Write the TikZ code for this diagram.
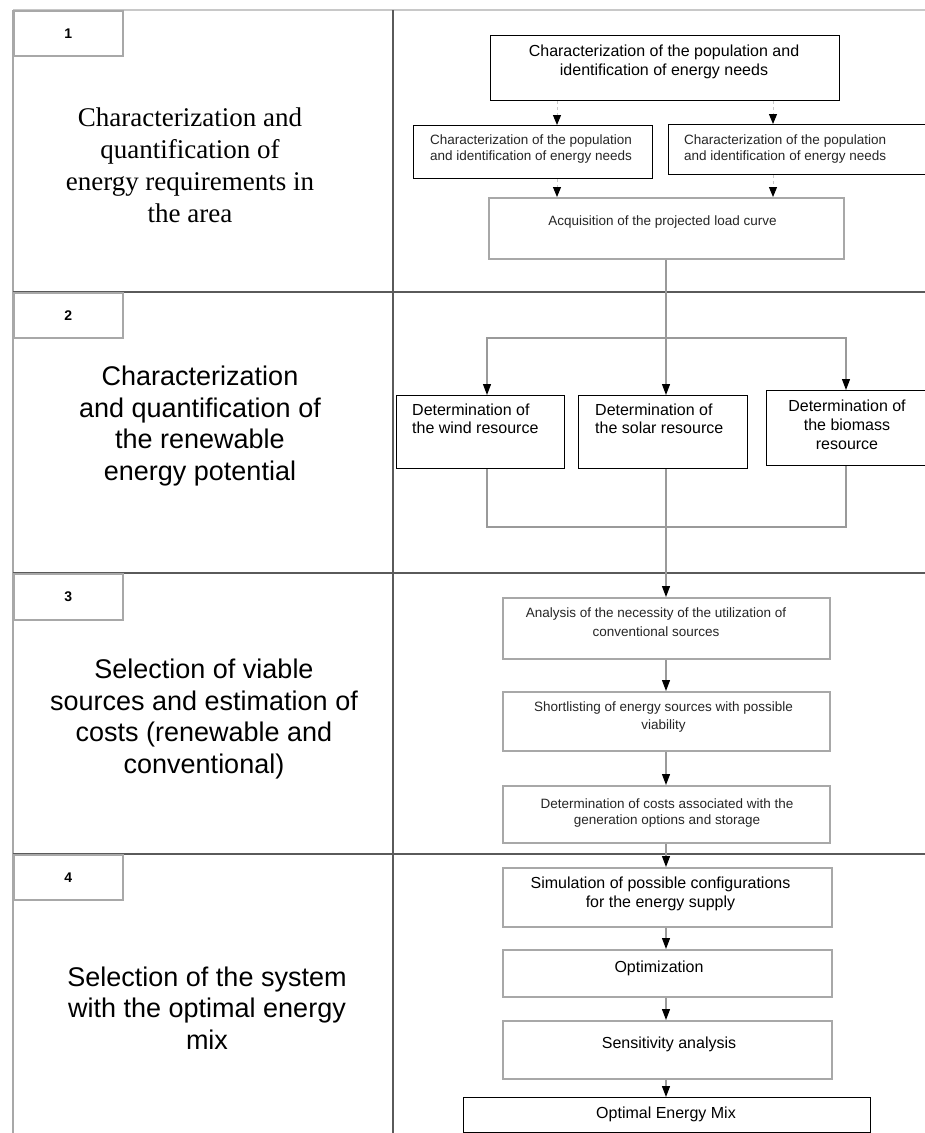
\documentclass[tikz,border=0pt]{standalone}
\usepackage{fontspec}
\setmainfont{Liberation Sans}
\newfontfamily\serifff{Liberation Serif}
\usetikzlibrary{arrows.meta,calc}
\definecolor{divc}{HTML}{5A5A5A}
\definecolor{lgray}{HTML}{A8A8A8}
\definecolor{cgray}{HTML}{9A9A9A}
\definecolor{tgray}{HTML}{C8C8C8}
\begin{document}
\begin{tikzpicture}[x=1pt,y=-1pt,
  bbox/.style={draw=black, line width=1.3pt, inner sep=0pt, anchor=north west},
  gbox/.style={draw=lgray, line width=1.8pt, inner sep=0pt, anchor=north west},
  numbox/.style={draw=lgray, line width=1.5pt, inner sep=0pt, anchor=north west, minimum width=109pt, minimum height=45pt, font=\fontsize{14}{16}\selectfont\bfseries},
  bigtxt/.style={align=center, inner sep=0pt, font=\fontsize{27}{31.5}\selectfont},
  sertxt/.style={align=center, inner sep=0pt, font=\serifff\fontsize{27}{32}\selectfont},
  t16/.style={inner sep=0pt, font=\fontsize{16}{19}\selectfont},
  t13/.style={inner sep=0pt, font=\fontsize{13.5}{16}\selectfont, text=black!85},
  divline/.style={draw=divc, line width=2pt},
  gline/.style={draw=cgray, line width=1.2pt},
  arr/.style={draw=cgray, line width=1.2pt, -{Triangle[width=8pt,length=11pt,color=black,fill=black]}},
  farr/.style={draw=tgray, line width=1pt, dashed, -{Triangle[width=8pt,length=10pt,color=black,fill=black]}}
]
\useasboundingbox (0,0) rectangle (925,1133);
\fill[white] (0,0) rectangle (925,1133);

% frame
\draw[draw=tgray, line width=1.5pt] (13,10) -- (925,10);
\draw[draw=lgray, line width=2pt] (13,10) -- (13,1133);
\draw[divline, line width=2.5pt] (393,10) -- (393,1133);
\draw[divline] (13,292) -- (925,292);
\draw[divline] (13,573) -- (925,573);
\draw[divline] (13,854) -- (925,854);

% number boxes
\node[numbox] (n1) at (13,10) {1};
\node[numbox] (n2) at (13,292) {2};
\node[numbox, minimum height=46pt] (n3) at (13,573) {3};
\node[numbox] (n4) at (13,854) {4};

% left column texts
\node[sertxt] (s1) at (190,165) {Characterization and\\quantification of\\energy requirements in\\the area};
\node[bigtxt] (s2) at (200,426) {Characterization\\and quantification of\\the renewable\\energy potential};
\node[bigtxt] (s3) at (204,719) {Selection of viable\\sources and estimation of\\costs (renewable and\\conventional)};
\node[bigtxt] (s4) at (207,1008) {Selection of the system\\with the optimal energy\\mix};

% section 1 boxes
\node[bbox, minimum width=349pt, minimum height=65pt] (top) at (490,35) {};
\node[t16, align=center] (toptxt) at (664,62) {Characterization of the population and\\identification of energy needs};
\node[bbox, minimum width=239pt, minimum height=53pt] (r2l) at (413,125) {};
\node[t13, align=center] (r2ltxt) at (531,149) {Characterization of the population\\and identification of energy needs};
\node[bbox, minimum width=262pt, minimum height=50pt] (r2r) at (668,124) {};
\node[t13, align=left, anchor=west] (r2rtxt) at (684,149) {Characterization of the population\\and identification of energy needs};
\node[gbox, minimum width=355pt, minimum height=61pt] (acq) at (488,197) {};
\node[t13] (acqtxt) at (662.5,222) {Acquisition of the projected load curve};

% section 2 boxes
\node[bbox, minimum width=168pt, minimum height=73pt] (wind) at (396,395) {};
\node[t16, align=left, anchor=west, font=\fontsize{16}{18.5}\selectfont] (windtxt) at (412,419) {Determination of\\the wind resource};
\node[bbox, minimum width=169pt, minimum height=73pt] (solar) at (578,395) {};
\node[t16, align=left, anchor=west, font=\fontsize{16}{18.5}\selectfont] (solartxt) at (595,419) {Determination of\\the solar resource};
\node[bbox, minimum width=164pt, minimum height=75pt] (bio) at (766,390) {};
\node[t16, align=center] (biotxt) at (847,425) {Determination of\\the biomass\\resource};

% section 3 boxes
\node[gbox, minimum width=327pt, minimum height=61pt] (ana) at (502,597) {};
\node[t13, font=\fontsize{13.5}{19}\selectfont, align=center] (anatxt) at (656,622.5) {Analysis of the necessity of the utilization of\\conventional sources};
\node[gbox, minimum width=327pt, minimum height=59pt] (short) at (502,691) {};
\node[t13, font=\fontsize{13.5}{18}\selectfont, align=center] (shorttxt) at (663.5,717) {Shortlisting of energy sources with possible\\viability};
\node[gbox, minimum width=327pt, minimum height=57pt] (cost) at (502,785) {};
\node[t13, font=\fontsize{13.5}{16.5}\selectfont, align=center] (costtxt) at (667,813) {Determination of costs associated with the\\generation options and storage};

% section 4 boxes
\node[gbox, minimum width=329pt, minimum height=59pt] (sim) at (502,867) {};
\node[t16, font=\fontsize{16}{18.5}\selectfont, align=center] (simtxt) at (660.5,894) {Simulation of possible configurations\\for the energy supply};
\node[gbox, minimum width=329pt, minimum height=47pt] (opt) at (502,949) {};
\node[t16] (opttxt) at (659,968) {Optimization};
\node[gbox, minimum width=329pt, minimum height=58pt] (sens) at (502,1020) {};
\node[t16] (senstxt) at (669,1044) {Sensitivity analysis};
\node[bbox, minimum width=407pt, minimum height=35pt] (mix) at (463,1097) {};
\node[t16] (mixtxt) at (666,1114) {Optimal Energy Mix};

% x positions of connectors
\coordinate (xl) at (557,0);
\coordinate (xr) at (773,0);
\coordinate (xc) at (666,0);
\coordinate (xw) at (487,0);
\coordinate (xb) at (846,0);
\coordinate (br) at (666,338);
\coordinate (mrg) at (666,527);

% section 1 connectors
\draw[farr] (top.south -| xl) -- (r2l.north -| xl);
\draw[farr] (top.south -| xr) -- (r2r.north -| xr);
\draw[farr] (r2l.south -| xl) -- (acq.north -| xl);
\draw[farr] (r2r.south -| xr) -- (acq.north -| xr);

% section 2 connectors
\draw[arr] (acq.south -| xc) -- (solar.north -| xc);
\draw[arr] (br) -| (wind.north -| xw);
\draw[arr] (br) -| (bio.north -| xb);
\draw[gline] (wind.south -| xw) -- (xw |- mrg) -- (xb |- mrg) -- (bio.south -| xb);

% section 3 & 4 connectors
\draw[arr] (solar.south -| xc) -- (ana.north -| xc);
\draw[arr] (ana.south -| xc) -- (short.north -| xc);
\draw[arr] (short.south -| xc) -- (cost.north -| xc);
\draw[arr] (cost.south -| xc) -- (sim.north -| xc);
\draw[arr] (sim.south -| xc) -- (opt.north -| xc);
\draw[arr] (opt.south -| xc) -- (sens.north -| xc);
\draw[arr] (sens.south -| xc) -- (mix.north -| xc);
\end{tikzpicture}
\end{document}
